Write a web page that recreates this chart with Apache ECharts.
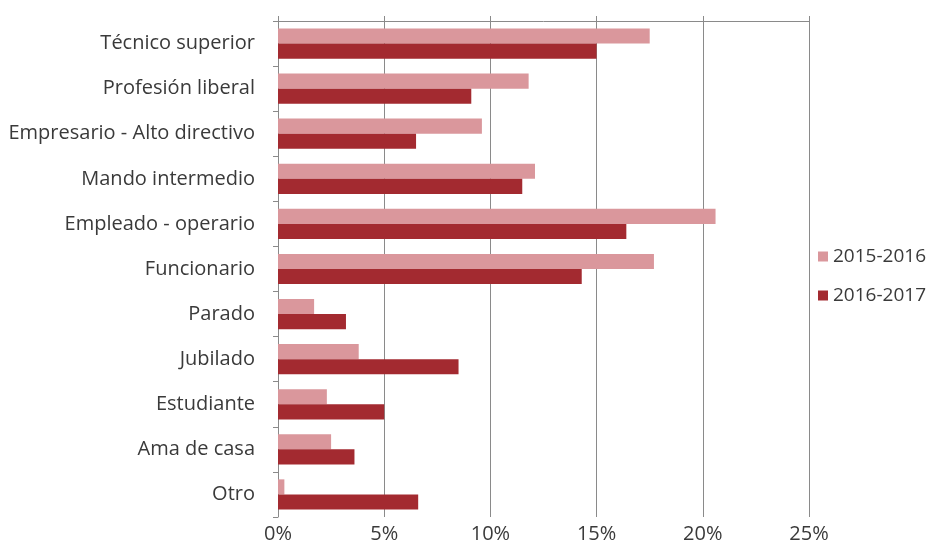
<!DOCTYPE html>
<html><head><meta charset="utf-8">
<script src="https://cdn.jsdelivr.net/npm/echarts@6/dist/echarts.min.js"></script>
<style>html,body{margin:0;padding:0;background:#fff}#c{width:936px;height:556px}</style>
</head><body><div id="c"></div>
<script>
const categories = ["Técnico superior","Profesión liberal","Empresario - Alto directivo","Mando intermedio","Empleado - operario","Funcionario","Parado","Jubilado","Estudiante","Ama de casa","Otro"];
const s2015 = [17.5, 11.8, 9.6, 12.1, 20.6, 17.7, 1.7, 3.8, 2.3, 2.5, 0.3];
const s2016 = [15.0, 9.1, 6.5, 11.5, 16.4, 14.3, 3.2, 8.5, 5.0, 3.6, 6.6];
const seriesNames = ["2015-2016", "2016-2017"];
const tickLabels = ["0%","5%","10%","15%","20%","25%"];

const font = "'Open Sans', sans-serif";
const chart = echarts.init(document.getElementById('c'));
chart.setOption({
  animation: false,
  textStyle: {fontFamily: font},
  grid: {left: 278, right: 127, top: 21, bottom: 39, containLabel: false},
  legend: {
    orient: 'vertical', left: 818, top: 247, itemGap: 20, itemWidth: 10, itemHeight: 10, icon: 'rect',
    padding: 0,
    textStyle: {fontSize: 19, color: '#3a3a3a', fontFamily: font},
    data: seriesNames
  },
  xAxis: [{
    type: 'value', min: 0, max: 25, interval: 5, position: 'bottom',
    axisLine: {show: false}, axisTick: {show: false},
    splitLine: {show: true, lineStyle: {color: '#8a8a8a', width: 1}},
    axisLabel: {fontSize: 20, color: '#3a3a3a', margin: 7, formatter: v => tickLabels[v/5]}
  }, {
    type: 'value', min: 0, max: 25, interval: 5, position: 'top',
    axisLine: {show: true, lineStyle: {color: '#8a8a8a', width: 1}},
    axisTick: {show: true, length: 5, lineStyle: {color: '#8a8a8a'}},
    axisLabel: {show: false}, splitLine: {show: false}
  }],
  yAxis: {
    type: 'category', data: categories, inverse: true,
    axisLine: {show: true, lineStyle: {color: '#8a8a8a', width: 1}},
    axisTick: {show: true, length: 5, lineStyle: {color: '#8a8a8a'}},
    axisLabel: {fontSize: 20, color: '#3a3a3a', margin: 23}
  },
  series: [
    {name: seriesNames[0], type: 'bar', data: s2015, barGap: '0%', barCategoryGap: '33%',
     itemStyle: {color: '#da979c'}},
    {name: seriesNames[1], type: 'bar', data: s2016, barGap: '0%', barCategoryGap: '33%',
     itemStyle: {color: '#a32a30'}}
  ]
});
</script></body></html>
